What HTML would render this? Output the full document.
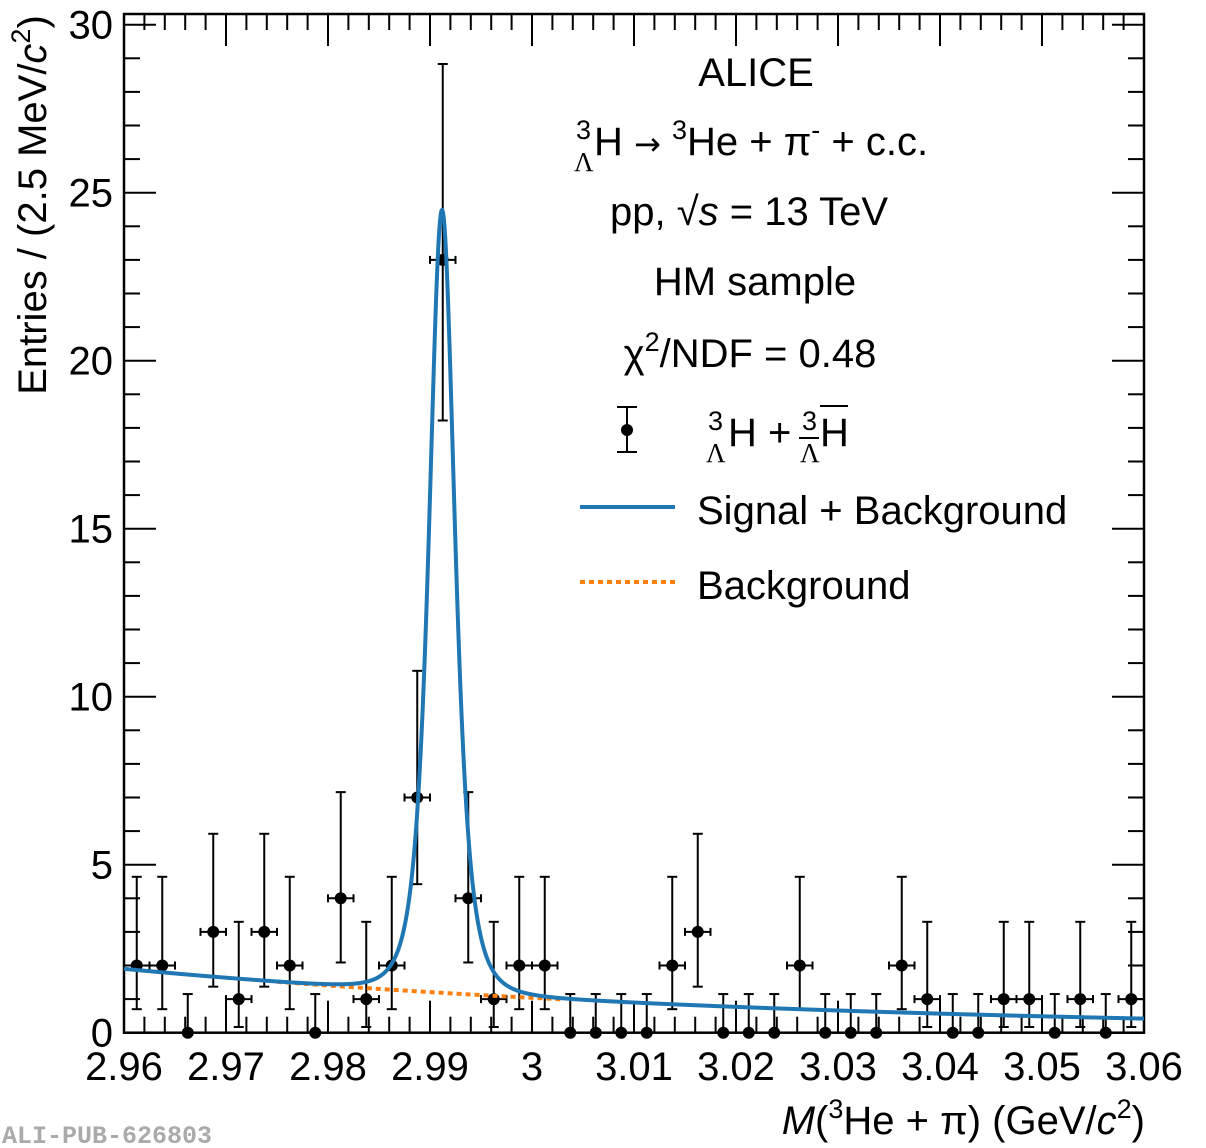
<!DOCTYPE html>
<html><head><meta charset="utf-8"><style>
html,body{margin:0;padding:0;background:#fff;}
svg{display:block;font-family:"Liberation Sans",sans-serif;}
</style></head><body>
<svg id="s" width="1206" height="1148" viewBox="0 0 1206 1148" xmlns="http://www.w3.org/2000/svg">
<g id="ticks" stroke="#000" stroke-width="2"></g>
<rect x="124" y="14" width="1020" height="1018.7" fill="none" stroke="#000" stroke-width="2.5"/>
<g id="lbl" font-size="40" fill="#000"></g>
<g id="data"></g>
<path id="bg" fill="none" stroke="#ff7f0e" stroke-width="4" stroke-dasharray="5,4"/>
<path id="sb" fill="none" stroke="#1f77b4" stroke-width="4"/>
<g font-size="40" fill="#000" text-anchor="middle">
<text x="756" y="86">ALICE</text>
<text x="574" y="155" text-anchor="start"><tspan font-size="27" dy="-16" x="576">3</tspan><tspan font-family="Liberation Serif" font-size="27" x="574" dy="32">Λ</tspan><tspan x="594" dy="-16">H  </tspan><tspan font-family="DejaVu Sans" font-size="32">→</tspan><tspan> </tspan><tspan font-size="27" dy="-16">3</tspan><tspan dy="16">He + π</tspan><tspan font-size="27" dy="-16">-</tspan><tspan dy="16"> + c.c.</tspan></text>
<text x="610" y="225" text-anchor="start">pp, √<tspan font-style="italic">s</tspan> = 13 TeV</text>
<text x="755" y="295">HM sample</text>
<text x="750" y="367">χ<tspan font-size="27" dy="-16">2</tspan><tspan dy="16">/NDF = 0.48</tspan></text>
<text x="707" y="446" text-anchor="start"><tspan font-size="27" dy="-16" x="708">3</tspan><tspan font-family="Liberation Serif" font-size="27" x="706" dy="32">Λ</tspan><tspan x="728" dy="-16">H + </tspan><tspan font-size="27" dy="-16" x="802">3</tspan><tspan font-family="Liberation Serif" font-size="27" x="800" dy="32">Λ</tspan><tspan x="820" dy="-16">H</tspan></text>
<line x1="799" y1="438" x2="819" y2="438" stroke="#000" stroke-width="2"/>
<line x1="820" y1="406" x2="848" y2="406" stroke="#000" stroke-width="2"/>
<text x="697" y="524" text-anchor="start">Signal + Background</text>
<text x="697" y="599" text-anchor="start">Background</text>
</g>
<line x1="580" y1="507" x2="675" y2="507" stroke="#1f77b4" stroke-width="4"/>
<line x1="580" y1="582" x2="675" y2="582" stroke="#ff7f0e" stroke-width="4" stroke-dasharray="5,4"/>
<g stroke="#000" stroke-width="2"><line x1="627" y1="407" x2="627" y2="452"/><line x1="617" y1="407" x2="637" y2="407"/><line x1="617" y1="452" x2="637" y2="452"/></g>
<circle cx="627" cy="430" r="6" fill="#000"/>
<text transform="translate(46,205) rotate(-90)" font-size="40" text-anchor="middle">Entries / (2.5 MeV/<tspan font-style="italic">c</tspan><tspan font-size="27" dy="-16">2</tspan><tspan dy="16">)</tspan></text>
<text x="1145" y="1134" font-size="40" text-anchor="end"><tspan font-style="italic">M</tspan>(<tspan font-size="27" dy="-16">3</tspan><tspan dy="16">He + π) (GeV/</tspan><tspan font-style="italic">c</tspan><tspan font-size="27" dy="-16">2</tspan><tspan dy="16">)</tspan></text>
<text x="2" y="1143" font-family="Liberation Mono" font-weight="bold" font-size="25" fill="#aaa">ALI-PUB-626803</text>
</svg>
<script>
var NS="http://www.w3.org/2000/svg";
function X(m){return 124+10200*(m-2.96);}
function Y(v){return 1032.7-33.6*v;}
function el(p,t,a,txt){var e=document.createElementNS(NS,t);for(var k in a)e.setAttribute(k,a[k]);if(txt!==undefined)e.textContent=txt;document.getElementById(p).appendChild(e);return e;}
for(var i=0;i<=50;i++){var m=2.96+i*0.002,x=X(m),L=(i%5==0)?32:16;
 el("ticks","line",{x1:x,y1:1032.7,x2:x,y2:1032.7-L});el("ticks","line",{x1:x,y1:14,x2:x,y2:14+L});
 if(i%5==0){var v=(2.96+i*0.002).toFixed(2);if(v=="3.00")v="3";el("lbl","text",{x:x,y:1080,"text-anchor":"middle"},v);}}
for(var v=0;v<=30;v++){var y=Y(v),L=(v%5==0)?32:16;
 el("ticks","line",{x1:124,y1:y,x2:124+L,y2:y});el("ticks","line",{x1:1144,y1:y,x2:1144-L,y2:y});
 if(v%5==0)el("lbl","text",{x:113,y:y+14,"text-anchor":"end"},String(v));}
var vals=[2,2,0,3,1,3,2,0,4,1,2,7,23,4,1,2,2,0,0,0,0,2,3,0,0,0,2,0,0,0,2,1,0,0,1,1,0,1,0,1];
var err={0:[0,1.15],1:[0.83,2.3],2:[1.3,2.64],3:[1.63,2.92],4:[1.91,3.16],7:[2.58,3.77],23:[4.78,5.83]};
vals.forEach(function(n,i){var m=2.96125+0.0025*i,x=X(m),y=Y(n),e=err[n];
 el("data","line",{x1:x,y1:Y(n-e[0]),x2:x,y2:Y(n+e[1]),stroke:"#000","stroke-width":2});
 el("data","line",{x1:x-5,y1:Y(n+e[1]),x2:x+5,y2:Y(n+e[1]),stroke:"#000","stroke-width":2});
 if(n>0){el("data","line",{x1:x-5,y1:Y(n-e[0]),x2:x+5,y2:Y(n-e[0]),stroke:"#000","stroke-width":2});
  el("data","line",{x1:x-12.75,y1:y,x2:x+12.75,y2:y,stroke:"#000","stroke-width":2});
  el("data","line",{x1:x-12.75,y1:y-4,x2:x-12.75,y2:y+4,stroke:"#000","stroke-width":2});
  el("data","line",{x1:x+12.75,y1:y-4,x2:x+12.75,y2:y+4,stroke:"#000","stroke-width":2});}
 el("data","circle",{cx:x,cy:y,r:6,fill:"#000"});});
function B(m){return 1.9*Math.exp(-15.1*(m-2.96));}
function S(m){var d=(m-2.99118)/0.00233,q=1+d*d;return 23.3/(q*q);}
var ps="";
for(var i=0;i<=4000;i++){var m=2.96+i*0.000025;ps+=(i?"L":"M")+X(m).toFixed(2)+","+Y(B(m)+S(m)).toFixed(2);}
var pbs="";for(var i=0;i<=2000;i++){var m=2.96+i*0.00005;if(m<2.975||m>3.003)continue;pbs+=(pbs?"L":"M")+X(m).toFixed(2)+","+Y(B(m)).toFixed(2);}
document.getElementById("bg").setAttribute("d",pbs);
document.getElementById("sb").setAttribute("d",ps);
</script>
</body></html>
